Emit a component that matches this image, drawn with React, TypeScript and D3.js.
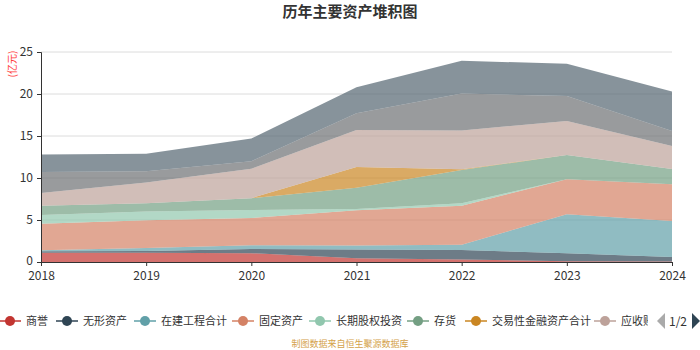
import React, { useRef, useEffect } from 'react';
import * as d3 from 'd3';

// years on the x axis
const years = ['2018', '2019', '2020', '2021', '2022', '2023', '2024'];

// series (bottom to top), values in 亿元
const seriesNames = ['商誉', '无形资产', '在建工程合计', '固定资产', '长期股权投资', '存货', '交易性金融资产合计', '应收账款', '货币资金', '其他资产'];
const goodwill = [1.1, 1.1, 1.05, 0.45, 0.3, 0.1, 0.05];
const intangible = [0.17, 0.2, 0.5, 1.05, 1.13, 0.93, 0.55];
const construction = [0.13, 0.37, 0.45, 0.45, 0.63, 4.64, 4.28];
const fixedAssets = [3.16, 3.29, 3.24, 4.2, 4.64, 4.17, 4.37];
const equityInvest = [1.04, 1.04, 0.96, 0.15, 0.3, 0, 0];
const inventory = [1.1, 1.0, 1.4, 2.55, 3.95, 2.9, 1.82];
const tradingAssets = [0, 0, 0, 2.45, 0.1, 0, 0];
const receivables = [1.5, 2.45, 3.5, 4.4, 4.6, 4.06, 2.73];
const cash = [2.5, 1.35, 0.9, 2.0, 4.4, 2.96, 1.8];
const others = [2.1, 2.1, 2.7, 3.1, 3.9, 3.84, 4.7];

const yTicks = [0, 5, 10, 15, 20, 25];
const colors = ['#c23531', '#2f4554', '#61a0a8', '#d48265', '#91c7ae', '#749f83', '#ca8622', '#bda29a', '#6e7074', '#546570'];

const allSeries = [goodwill, intangible, construction, fixedAssets, equityInvest, inventory, tradingAssets, receivables, cash, others];
// legend page 1 shows the first 8 items
const legendX = [10, 67, 145, 243, 320, 418, 476, 605];

const FONT = '"Noto Sans CJK SC", "Noto Sans", sans-serif';

const App = () => {
    const svgRef = useRef<SVGSVGElement>(null);

    useEffect(() => {
        const svg = d3.select(svgRef.current);
        svg.selectAll('*').remove();

        const margin = { top: 52, right: 28, bottom: 88, left: 41 };
        const width = 700 - margin.left - margin.right;
        const height = 350 - margin.top - margin.bottom;

        // rows for d3.stack
        const table = years.map((y, i) => {
            const row: any = { year: y };
            seriesNames.forEach((n, k) => { row[n] = allSeries[k][i]; });
            return row;
        });
        const stacked = d3.stack().keys(seriesNames)(table);

        const x = d3.scalePoint().domain(years).range([0, width]);
        const y = d3.scaleLinear().domain([0, 25]).range([height, 0]);

        // title
        svg.append('text')
            .attr('x', 350).attr('y', 17)
            .attr('text-anchor', 'middle')
            .style('font-family', FONT)
            .style('font-size', '15px')
            .style('font-weight', 'bold')
            .attr('fill', '#333')
            .text('历年主要资产堆积图');

        const g = svg.append('g').attr('transform', `translate(${margin.left},${margin.top})`);

        // grid lines
        g.selectAll('.grid')
            .data(yTicks.slice(1))
            .enter().append('line')
            .attr('x1', 0).attr('x2', width)
            .attr('y1', d => y(d)).attr('y2', d => y(d))
            .attr('stroke', '#dcdcdc').attr('stroke-width', 1);

        // areas
        const area = d3.area<any>()
            .x(d => x(d.data.year) as number)
            .y0(d => y(d[0]))
            .y1(d => y(d[1]));

        g.selectAll('.area')
            .data(stacked)
            .enter().append('path')
            .attr('d', area)
            .attr('fill', (_, i) => colors[i])
            .attr('fill-opacity', 0.7);

        // y axis
        const yAxis = g.append('g')
            .call(d3.axisLeft(y).tickValues(yTicks).tickSize(4).tickPadding(4));
        yAxis.select('.domain').attr('stroke', '#333');
        yAxis.selectAll('.tick line').attr('stroke', '#333');
        yAxis.selectAll('text').style('font-family', FONT).style('font-size', '12px').attr('fill', '#333');
        // nudge the "0" up a little so it clears the first year label
        yAxis.selectAll('text').filter((d: any) => d === 0).attr('dy', '0.2em');

        // x axis
        const xAxis = g.append('g')
            .attr('transform', `translate(0,${height})`)
            .call(d3.axisBottom(x).tickSize(4).tickPadding(5));
        xAxis.select('.domain').attr('stroke', '#333');
        xAxis.selectAll('.tick line').attr('stroke', '#333');
        xAxis.selectAll('text').style('font-family', FONT).style('font-size', '12px').attr('fill', '#333');

        // unit label
        svg.append('text')
            .attr('transform', 'translate(16,64) rotate(-90)')
            .attr('text-anchor', 'middle')
            .style('font-family', FONT)
            .style('font-size', '10px')
            .attr('fill', '#ff3b3b')
            .text('(亿元)');

        // legend
        svg.append('clipPath').attr('id', 'legendClip')
            .append('rect').attr('x', 0).attr('y', 305).attr('width', 648).attr('height', 30);

        const legend = svg.append('g').attr('clip-path', 'url(#legendClip)');
        const items = legend.selectAll('.item')
            .data(seriesNames.slice(0, 8))
            .enter().append('g')
            .attr('transform', (_, i) => `translate(${legendX[i]},321)`);
        items.append('line')
            .attr('x1', -11).attr('x2', 11)
            .attr('stroke', (_, i) => colors[i]).attr('stroke-width', 1.5);
        items.append('circle')
            .attr('r', 5)
            .attr('fill', (_, i) => colors[i]);
        items.append('text')
            .attr('x', 16).attr('y', 4)
            .style('font-family', FONT)
            .style('font-size', '11px')
            .attr('fill', '#333')
            .text(d => d);

        // legend pager
        svg.append('path').attr('d', 'M657,321 L665,313 L665,329 Z').attr('fill', '#aaa');
        svg.append('text')
            .attr('x', 669).attr('y', 325.5)
            .style('font-family', FONT)
            .style('font-size', '12px')
            .attr('fill', '#333')
            .text('1/2');
        svg.append('path').attr('d', 'M692,313 L700,321 L692,329 Z').attr('fill', '#2f4554');

        // source note
        svg.append('text')
            .attr('x', 350).attr('y', 347)
            .attr('text-anchor', 'middle')
            .style('font-family', FONT)
            .style('font-size', '9px')
            .attr('fill', '#d4a24a')
            .text('制图数据来自恒生聚源数据库');
    }, []);

    return <svg ref={svgRef} width={700} height={350} style={{ position: 'absolute', left: 0, top: 0 }}></svg>;
};

export default App;
